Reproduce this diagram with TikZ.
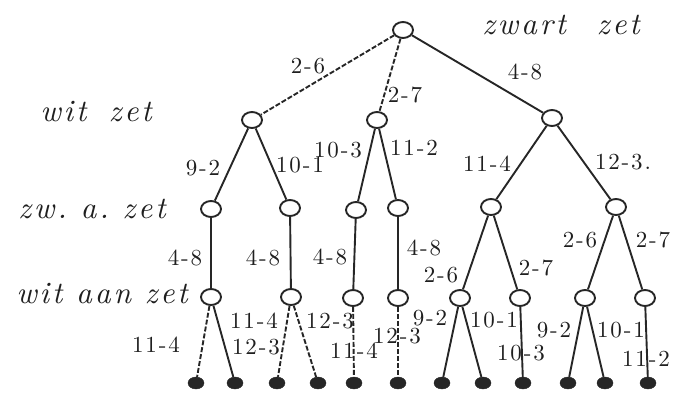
\documentclass[tikz,border=0pt]{standalone}
\usepackage{fontspec}
\newfontfamily\handfont{lmroman10-italic}[Extension=.otf,LetterSpace=9]
\newfontfamily\numfont{lmroman10-regular}[Extension=.otf,LetterSpace=8]
\usetikzlibrary{shapes.geometric}
\begin{document}
\begin{tikzpicture}[x=1pt,y=-1pt,
  every node/.style={inner sep=0pt},
  posn/.style={ellipse,draw=black!85,line width=1.9pt,minimum width=20pt,minimum height=16pt},
  leaf/.style={ellipse,fill=black!85,draw=black!85,minimum width=16pt,minimum height=12pt},
  conn/.style={draw=black!85,line width=1.9pt},
  dconn/.style={conn,dash pattern=on 5pt off 2pt},
  lbl/.style={font=\fontsize{23}{23}\numfont,text=black!88},
  side/.style={font=\fontsize{31}{31}\handfont,text=black!88},
  onl/.style={lbl}]
\useasboundingbox (0,0) rectangle (675,394);
% positions
\node[posn] (R) at (403,30) {};
\node[posn] (A) at (252,120) {};
\node[posn] (B) at (377,120) {};
\node[posn] (C) at (552,118) {};
\node[posn] (A1) at (211,209) {};
\node[posn] (A2) at (290,208) {};
\node[posn] (B1) at (356,210) {};
\node[posn] (B2) at (398,208) {};
\node[posn] (C1) at (491,207) {};
\node[posn] (C2) at (616,207) {};
\node[posn] (A1x) at (211,297) {};
\node[posn] (A2x) at (291,297) {};
\node[posn] (B1x) at (353,298) {};
\node[posn] (B2x) at (398,298) {};
\node[posn] (C1a) at (460,298) {};
\node[posn] (C1b) at (520,298) {};
\node[posn] (C2a) at (585,298) {};
\node[posn] (C2b) at (645,298) {};
\foreach \i/\x in {1/196,2/235,3/277,4/318,5/354,6/398,7/442,8/483,9/523,10/568,11/605,12/648}
  \node[leaf] (L\i) at (\x,383) {};
% edges
\draw[dconn] (R) -- (A);
\draw[dconn] (R) -- (B);
\draw[conn] (R) -- (C);
\draw[conn] (A) -- (A1);
\draw[conn] (A) -- (A2);
\draw[conn] (B) -- (B1);
\draw[conn] (B) -- (B2);
\draw[conn] (C) -- (C1);
\draw[conn] (C) -- (C2);
\draw[conn] (A1) -- (A1x);
\draw[conn] (A2) -- (A2x);
\draw[conn] (B1) -- (B1x);
\draw[conn] (B2) -- (B2x);
\draw[conn] (C1) -- (C1a);
\draw[conn] (C1) -- (C1b);
\draw[conn] (C2) -- (C2a);
\draw[conn] (C2) -- (C2b);
\draw[dconn] (A1x) -- (L1);
\draw[conn] (A1x) -- (L2);
\draw[dconn] (A2x) -- (L3);
\draw[dconn] (A2x) -- (L4);
\draw[dconn] (B1x) -- (L5);
\draw[dconn] (B2x) -- (L6);
\draw[conn] (C1a) -- (L7);
\draw[conn] (C1a) -- (L8);
\draw[conn] (C1b) -- (L9);
\draw[conn] (C2a) -- (L10);
\draw[conn] (C2a) -- (L11);
\draw[conn] (C2b) -- (L12);
% edge labels
\node[lbl] (t1) at (308,66) {2-6};
\node[lbl] (t2) at (405,95) {2-7};
\node[lbl] (t3) at (525,72) {4-8};
\node[lbl] (t4) at (203,168) {9-2};
\node[lbl] (t5) at (300,165) {10-1};
\node[lbl] (t6) at (338,150) {10-3};
\node[lbl] (t7) at (414,148) {11-2};
\node[lbl] (t8) at (487,164) {11-4};
\node[lbl] (t9) at (623,162) {12-3.};
\node[lbl] (t10) at (185,258) {4-8};
\node[lbl] (t11) at (263,258) {4-8};
\node[lbl] (t12) at (330,257) {4-8};
\node[lbl] (t13) at (424,248) {4-8};
\node[lbl] (t14) at (441,275) {2-6};
\node[lbl] (t15) at (536,268) {2-7};
\node[lbl] (t16) at (580,240) {2-6};
\node[lbl] (t17) at (653,240) {2-7};
\node[lbl] (t18) at (156,345) {11-4};
\node[lbl] (t19) at (256,347) {12-3};
\node[lbl] (t20) at (254,321) {11-4};
\node[lbl] (t21) at (330,321) {12-3};
\node[onl] (t22) at (354,351) {11-4};
\node[onl] (t23) at (397,336) {12-3};
\node[lbl] (t24) at (430,318) {9-2};
\node[lbl] (t25) at (494,320) {10-1};
\node[onl] (t26) at (521,353) {10-3};
\node[lbl] (t27) at (554,330) {9-2};
\node[lbl] (t28) at (621,330) {10-1};
\node[onl] (t29) at (646,359) {11-2};
% side labels
\node[side] (s1) at (561,25) {zwart\quad zet};
\node[side] (s2) at (96,112) {wit\; zet};
\node[side] (s3) at (92,209) {zw.\ a.\ zet};
\node[side] (s4) at (102,294) {wit aan zet};
\end{tikzpicture}
\end{document}
